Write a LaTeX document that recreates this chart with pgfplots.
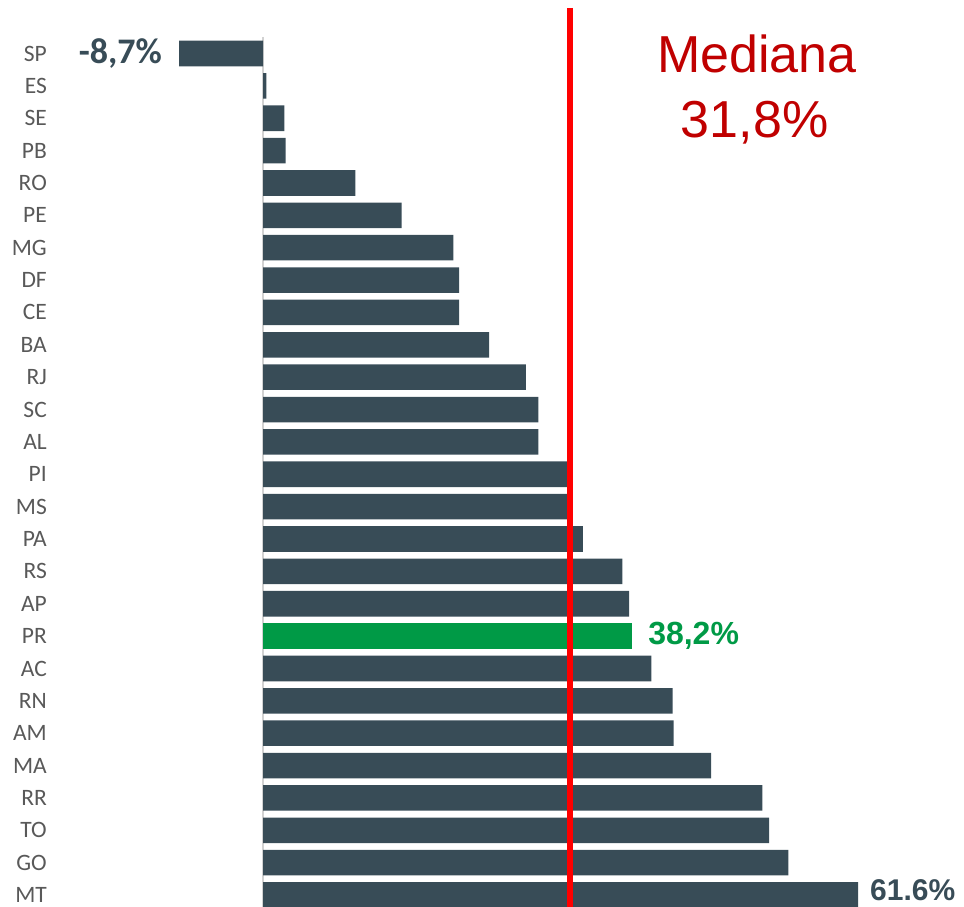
\documentclass[border=0pt]{standalone}
\usepackage{pgfplots}
\pgfplotsset{compat=1.18}
\usepackage{fontspec}
\setmainfont{Carlito}
\newfontfamily\arial{Liberation Sans}
\definecolor{barc}{HTML}{384C57}
\definecolor{grn}{HTML}{009A46}
\definecolor{medred}{HTML}{C00000}
\definecolor{lbl}{HTML}{595959}
\begin{document}
\begin{tikzpicture}
\begin{axis}[
  at={(60pt,0pt)}, anchor=south west,
  scale only axis, width=904pt, height=907pt,
  xmin=-21.02, xmax=72.57,
  ymin=-1.653, ymax=26.37,
  y dir=reverse,
  clip=false,
  axis line style={draw=none},
  xtick=\empty,
  ytick={0,1,...,26},
  yticklabels={SP,ES,SE,PB,RO,PE,MG,DF,CE,BA,RJ,SC,AL,PI,MS,PA,RS,AP,PR,AC,RN,AM,MA,RR,TO,GO,MT},
  major tick length=0pt,
  tick style={draw=none},
  yticklabel style={font=\fontsize{23.5}{26}\selectfont, text=lbl, inner sep=0pt, xshift=-13pt},
  xbar, bar width=0.79, bar shift=0pt,
]
\addplot[sharp plot, forget plot, draw=gray!35, line width=1.5pt] coordinates {(0,-0.51) (0,26.37)};
\addplot[draw=none, fill=barc] coordinates {
(-8.7,0) (0.35,1) (2.2,2) (2.35,3) (9.55,4) (14.35,5) (19.7,6) (20.3,7) (20.3,8) (23.4,9)
(27.2,10) (28.5,11) (28.5,12) (31.8,13) (31.8,14) (33.1,15) (37.2,16) (37.9,17)
(40.2,19) (42.4,20) (42.5,21) (46.4,22) (51.7,23) (52.4,24) (54.4,25) (61.6,26)};
\addplot[draw=none, fill=grn] coordinates {(38.2,18)};
\addplot[sharp plot, draw=red, line width=6pt, forget plot] coordinates {(31.8,-1.41) (31.8,26.37)};
\node[anchor=east, inner sep=0pt, text=barc, font=\fontsize{36}{38}\selectfont\bfseries] at (axis cs:-10.46,0) {-8,7\%};
\node[anchor=west, inner sep=0pt, text=grn, font=\arial\fontsize{32}{34}\selectfont\bfseries] at (axis cs:39.86,18) {38,2\%};
\node[anchor=west, inner sep=0pt, text=barc, font=\arial\fontsize{30}{32}\selectfont\bfseries] at (axis cs:62.84,25.86) {61.6\%};
\node[anchor=base, inner sep=0pt, text=medred, font=\arial\fontsize{52}{56}\selectfont] at (axis cs:51.14,0.60) {Mediana};
\node[anchor=base, inner sep=0pt, text=medred, font=\arial\fontsize{52}{56}\selectfont] at (axis cs:50.9,2.58) {31,8\%};
\end{axis}
\pgfresetboundingbox
\path[use as bounding box] (0,0) rectangle (964pt,907pt);
\end{tikzpicture}
\end{document}
